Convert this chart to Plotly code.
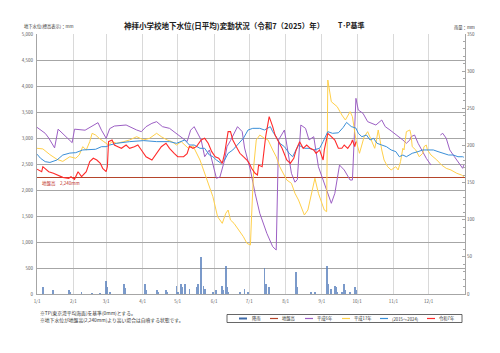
import plotly.graph_objects as go

YEAR = 2025

month_ticks = ["01-01", "02-01", "03-01", "04-01", "05-01", "06-01", "07-01",
               "08-01", "09-01", "10-01", "11-01", "12-01"]
month_labels = ["1/1", "2/1", "3/1", "4/1", "5/1", "6/1", "7/1", "8/1", "9/1",
                "10/1", "11/1", "12/1"]

ground_level = 2240

# 平成6年 (purple)
h6_dates = ["01-01", "01-04", "01-08", "01-11", "01-15", "01-16", "01-19", "01-25", "01-31",
            "02-02", "02-11", "02-22", "02-25", "03-01", "03-04", "03-08", "03-18", "03-27",
            "03-31", "04-04", "04-09", "04-13", "04-18", "04-24", "04-30", "05-03", "05-09",
            "05-12", "05-15", "05-21", "05-24", "05-28", "05-31", "06-03", "06-06", "06-10",
            "06-12", "06-15", "06-21", "06-25", "06-27", "07-02", "07-06", "07-10", "07-16",
            "07-21", "07-24", "07-26", "07-31", "08-03", "08-06", "08-09", "08-11", "08-14",
            "08-18", "08-21", "08-25", "08-29", "09-05", "09-09", "09-12", "09-16", "09-20",
            "09-25", "09-27", "09-30", "10-02", "10-06", "10-10", "10-14", "10-17", "10-22",
            "10-25", "10-29", "11-02", "11-06", "11-09", "11-12", "11-15", "11-16", "11-19",
            "11-22", "11-25", "11-29", "12-03", "12-07", "12-11", "12-13", "12-16", "12-19",
            "12-23", "12-28", "12-30", "12-31"]
h6_vals = [3205, 3150, 3090, 3000, 2833, 2810, 3170, 3040, 2910,
           3170, 3150, 3295, 3150, 2994, 3180, 3230, 3250, 3154,
           3122, 3218, 3282, 3314, 3218, 3186, 3090, 3025, 2930,
           3150, 3218, 2962, 2640, 2770, 2520, 2225, 2250, 2577,
           2832, 2950, 3218, 3122, 2808, 2385, 1936, 1552, 1167,
           910, 846, 2962, 3154, 2711, 2321, 2150, 2200, 3250,
           3186, 2962, 3025, 2448, 2000, 1744, 1936, 2480, 2385,
           2192, 2192, 3763, 3538, 3475, 3314, 3282, 3250, 3346,
           3218, 3154, 3090, 3025, 2962, 2898, 2962, 3025, 3057,
           2898, 2770, 2609, 2480, None, 3057, 3090, 2994, 2770,
           2640, 2480, 2417, 2480]

# 平成17年 (yellow)
h17_dates = ["01-01", "01-06", "01-12", "01-18", "01-23", "01-29", "02-03", "02-06", "02-09",
             "02-12", "02-15", "02-17", "02-20", "02-23", "02-27", "03-03", "03-06", "03-10",
             "03-16", "03-21", "03-27", "04-02", "04-07", "04-13", "04-17", "04-22", "04-26",
             "04-30", "05-04", "05-10", "05-14", "05-17", "05-20", "05-23", "05-27", "05-31",
             "06-04", "06-08", "06-11", "06-13", "06-15", "06-18", "06-22", "06-26", "06-29",
             "07-02", "07-03", "07-05", "07-07", "07-10", "07-14", "07-17", "07-21", "07-24",
             "07-27", "07-30", "08-02", "08-06", "08-09", "08-12", "08-15", "08-17", "08-20",
             "08-23", "08-26", "08-29", "09-01", "09-03", "09-05", "09-06", "09-09", "09-14",
             "09-18", "09-21", "09-25", "09-27", "09-30", "10-03", "10-07", "10-10", "10-13",
             "10-16", "10-17", "10-19", "10-22", "10-24", "10-27", "10-30", "11-03", "11-05",
             "11-07", "11-09", "11-10", "11-12", "11-15", "11-16", "11-17", "11-20", "11-23",
             "11-26", "11-27", "11-29", "11-30", "12-03", "12-08", "12-12", "12-16", "12-20",
             "12-25", "12-29", "12-31"]
h17_vals = [2802, 2790, 2680, 2590, 2550, 2640, 2610, 2673, 2833,
            2770, 2930, 3090, 3057, 2994, 2930, 2865, 2930, 2898,
            2930, 2962, 3025, 2962, 2994, 3090, 3025, 2962, 2930,
            2865, 2930, 2802, 2850, 2706, 2577, 2385, 2128, 1872,
            1487, 1359, 1552, 1615, 1423, 1359, 1231, 1102, 975,
            942, 1500, 2500, 2962, 3057, 2994, 2962, 2770, 2640,
            2448, 2321, 2192, 2128, 1936, 1808, 1615, 1519, 1615,
            1936, 2225, 1936, 1744, 1615, 1583, 4115, 3698, 3602,
            3442, 3346, 3506, 3410, 2962, 2706, 3025, 3122, 2962,
            2802, 2900, 3154, 2770, 2577, 2448, 2385, 2448, 2385,
            2545, 2802, 2770, 3122, 3154, 3057, 2833, 2770, 2640,
            2706, 2833, 2865, 2770, 2673, 2577, 2480, 2417, 2385,
            2321, 2288, 2256]

# (2015～2024) average (blue)
avg_dates = ["01-01", "01-04", "01-08", "01-12", "01-18", "01-23", "01-29", "02-03", "02-09",
             "02-15", "02-20", "02-25", "03-01", "03-04", "03-10", "03-21", "04-02", "04-13",
             "04-24", "04-30", "05-03", "05-07", "05-11", "05-15", "05-20", "05-24", "05-28",
             "05-31", "06-03", "06-07", "06-10", "06-13", "06-17", "06-22", "06-26", "06-30",
             "07-04", "07-10", "07-14", "07-19", "07-21", "07-24", "07-27", "07-31", "08-04",
             "08-07", "08-10", "08-12", "08-17", "08-21", "08-25", "08-30", "09-02", "09-06",
             "09-10", "09-15", "09-19", "09-22", "09-26", "09-30", "10-02", "10-05", "10-09",
             "10-12", "10-15", "10-18", "10-22", "10-26", "10-30", "11-03", "11-06", "11-09",
             "11-12", "11-15", "11-17", "11-22", "11-26", "11-30", "12-05", "12-09", "12-13",
             "12-18", "12-22", "12-26", "12-30", "12-31"]
avg_vals = [2690, 2610, 2545, 2530, 2577, 2673, 2710, 2718, 2770,
            2770, 2783, 2833, 2833, 2865, 2898, 2930, 2950, 2930,
            2930, 2898, 2930, 2962, 2865, 2865, 2802, 2802, 2673,
            2640, 2577, 2513, 2577, 2706, 2770, 2898, 2994, 3154,
            3186, 3186, 3154, 3218, 3122, 3025, 2898, 2833, 2706,
            2640, 2770, 2865, 2802, 2802, 2770, 2802, 2930, 3122,
            3090, 3100, 3200, 3300, 3220, 3190, 3090, 3025, 3057,
            2962, 2994, 2898, 2865, 2833, 2770, 2738, 2640, 2673,
            2640, 2673, 2706, 2738, 2770, 2770, 2770, 2738, 2706,
            2673, 2673, 2640, 2640, 2630]

# 令和7年 (red)
r7_dates = ["01-01", "01-05", "01-06", "01-11", "01-15", "01-18", "01-23", "01-28", "01-30",
            "02-02", "02-05", "02-08", "02-12", "02-15", "02-18", "02-21", "02-24", "02-26",
            "03-01", "03-02", "03-03", "03-06", "03-08", "03-11", "03-14", "03-18", "03-21",
            "03-25", "03-28", "03-31", "04-04", "04-09", "04-13", "04-17", "04-21", "04-24",
            "04-28", "05-01", "05-06", "05-09", "05-11", "05-14", "05-17", "05-21", "05-24",
            "05-27", "05-30", "06-02", "06-05", "06-08", "06-10", "06-13", "06-15", "06-17",
            "06-20", "06-23", "06-26", "06-29", "07-01", "07-03", "07-06", "07-08", "07-09",
            "07-12", "07-15", "07-18", "07-21", "07-23", "07-26", "07-29", "08-02", "08-05",
            "08-08", "08-10", "08-13", "08-16", "08-19", "08-22", "08-25", "08-27", "08-30",
            "09-02", "09-03", "09-06", "09-09", "09-12", "09-15", "09-18", "09-20", "09-23",
            "09-26", "09-27", "09-29", "09-30"]
r7_vals = [2400, 2352, 2448, 2352, 2321, 2288, 2243, 2225, 2256,
           2205, 2352, 2256, 2352, 2545, 2610, 2577, 2513, 2417,
           2352, 2450, 2930, 2962, 2865, 2833, 2802, 2865, 2802,
           2833, 2865, 2770, 2640, 2577, 2706, 2833, 2898, 2802,
           2706, 2640, 2640, 2700, 2840, 2802, 2833, 2962, 2994,
           2898, 2738, 2640, 2610, 2513, 2706, 3122, 3122, 2962,
           2833, 2706, 2640, 2577, 2513, 2417, 2321, 2288, 2480,
           2448, 3025, 3410, 3218, 3057, 2930, 2802, 2577, 2513,
           2609, 2770, 2930, 2802, 2865, 2802, 2770, 2706, 2770,
           2577, 2770, 3090, 3025, 2962, 2802, 2802, 2865, 2802,
           2898, 2962, 2833, 2930]

# 降雨 (rain, mm)
rain_dates = ["01-06", "01-15", "01-28", "01-29", "02-08", "02-17", "02-24", "03-01", "03-02",
              "03-04", "03-16", "03-17", "04-03", "04-04", "04-13", "04-14", "04-21", "04-22",
              "04-30", "05-01", "05-04", "05-05", "05-07", "05-11", "05-17", "05-18", "05-21",
              "05-23", "05-24", "05-31", "06-03", "06-08", "06-09", "06-11", "06-12", "06-13",
              "06-23", "06-27", "06-30", "07-14", "07-15", "07-18", "08-10", "08-11", "08-23",
              "08-26", "09-05", "09-06", "09-09", "09-12", "09-13", "09-14", "09-18", "09-20",
              "09-21", "09-25", "09-29", "09-30"]
rain_vals = [10, 5, 5, 3, 2, 1, 1, 17, 10,
             3, 14, 8, 14, 5, 5, 2, 5, 2,
             11, 2, 14, 9, 13, 7, 9, 14, 50,
             11, 7, 2, 5, 11, 5, 38, 9, 3,
             2, 7, 3, 35, 14, 9, 30, 9, 3,
             2, 38, 14, 7, 11, 9, 3, 3, 14,
             5, 3, 9, 5]

legend_names = ["降雨", "地盤高", "平成6年", "平成17年", "(2015～2024)", "令和7年"]
legend_colors = ["#5b82bd", "#b5452b", "#9c5fc4", "#ffd04a", "#3a8fd8", "#ff2b2b"]


def d(lst):
    return [f"{YEAR}-{s}" for s in lst]


FONT = "Noto Sans CJK JP"
L, R, T, B = 37, 35, 34, 59
W, H = 500, 353
PW, PH = W - L - R, H - T - B


def xp(px):
    return (px - L) / PW


def yp(py):
    return (H - B - py) / PH


fig = go.Figure()

fig.add_trace(go.Bar(x=d(rain_dates), y=rain_vals, yaxis="y2",
                     marker=dict(color=legend_colors[0], line=dict(width=0)),
                     width=86400000 * 0.75, opacity=0.8, name=legend_names[0]))

fig.add_trace(go.Scatter(x=[f"{YEAR}-01-01", f"{YEAR + 1}-01-01"],
                         y=[ground_level, ground_level], mode="lines",
                         line=dict(color=legend_colors[1], width=1.2),
                         name=legend_names[1]))
fig.add_trace(go.Scatter(x=d(h6_dates), y=h6_vals, mode="lines",
                         line=dict(color=legend_colors[2], width=1), name=legend_names[2],
                         connectgaps=False))
fig.add_trace(go.Scatter(x=d(h17_dates), y=h17_vals, mode="lines",
                         line=dict(color=legend_colors[3], width=1), name=legend_names[3]))
fig.add_trace(go.Scatter(x=d(avg_dates), y=avg_vals, mode="lines",
                         line=dict(color=legend_colors[4], width=1), name=legend_names[4]))
fig.add_trace(go.Scatter(x=d(r7_dates), y=r7_vals, mode="lines",
                         line=dict(color=legend_colors[5], width=1.1), name=legend_names[5]))

tick_font = dict(family=FONT, size=4.5, color="#595959")

fig.update_layout(
    width=W, height=H,
    margin=dict(l=L, r=R, t=T, b=B, pad=0),
    paper_bgcolor="white", plot_bgcolor="white",
    showlegend=False,
    bargap=0,
    font=dict(family=FONT),
    xaxis=dict(type="date", range=[f"{YEAR}-01-01", f"{YEAR + 1}-01-01"],
               tickvals=d(month_ticks), ticktext=month_labels,
               showgrid=True, gridcolor="#d9d9d9", gridwidth=1,
               showline=True, linecolor="#a6a6a6", linewidth=1,
               ticks="outside", ticklen=3, tickcolor="rgba(0,0,0,0)",
               tickfont=tick_font, zeroline=False),
    yaxis=dict(range=[0, 5000], dtick=500, tickformat=",d",
               showgrid=True, gridcolor="#a6a6a6", gridwidth=1,
               showline=True, linecolor="#a6a6a6", linewidth=1,
               ticks="outside", ticklen=2, tickcolor="rgba(0,0,0,0)",
               tickfont=tick_font, zeroline=False),
    yaxis2=dict(range=[0, 350], dtick=50, overlaying="y", side="right",
                showgrid=False, showline=True, linecolor="#a6a6a6", linewidth=1,
                ticks="inside", ticklen=3, tickcolor="#a6a6a6",
                minor=dict(dtick=10, ticks="inside", ticklen=2, tickcolor="#a6a6a6"),
                tickfont=tick_font, zeroline=False),
)

ann = []
ann.append(dict(text="<b>神拝小学校地下水位(日平均)変動状況（令和7（2025）年）</b>",
                x=xp(224), y=yp(25.5), xref="paper", yref="paper",
                xanchor="center", yanchor="middle", showarrow=False,
                font=dict(family=FONT, size=7.5, color="#222")))
ann.append(dict(text="<b>T･P基準</b>", x=xp(336), y=yp(25.5), xref="paper", yref="paper",
                xanchor="left", yanchor="middle", showarrow=False,
                font=dict(family=FONT, size=7, color="#222")))
ann.append(dict(text="地下水位(標高表示)：mm", x=xp(22), y=yp(26), xref="paper", yref="paper",
                xanchor="left", yanchor="middle", showarrow=False,
                font=dict(family=FONT, size=4.3, color="#333")))
ann.append(dict(text="雨量：mm", x=xp(452), y=yp(27), xref="paper", yref="paper",
                xanchor="left", yanchor="middle", showarrow=False,
                font=dict(family=FONT, size=4.3, color="#333")))
ann.append(dict(text="地盤高　2,240mm", x=xp(40), y=yp(183.5), xref="paper", yref="paper",
                xanchor="left", yanchor="middle", showarrow=False,
                font=dict(family=FONT, size=4.5, color="#c0302a")))
ann.append(dict(text="※TP(東京湾平均海面)を基準(0mm)とする。", x=xp(38), y=yp(313),
                xref="paper", yref="paper", xanchor="left", yanchor="middle", showarrow=False,
                font=dict(family=FONT, size=4.8, color="#333")))
ann.append(dict(text="※地下水位が地盤高(2,240mm)より高い場合は自噴する状態です。", x=xp(38), y=yp(319.5),
                xref="paper", yref="paper", xanchor="left", yanchor="middle", showarrow=False,
                font=dict(family=FONT, size=4.8, color="#333")))

shapes = []
# legend box
shapes.append(dict(type="rect", xref="paper", yref="paper",
                   x0=xp(227), x1=xp(462), y0=yp(314.5), y1=yp(322.5),
                   line=dict(color="#404040", width=0.8), fillcolor="white"))
sw_x = [239, 270, 305, 342, 380, 427]
tx_x = [250, 280, 315, 352, 390, 437]
ly = 318.5
for i, name in enumerate(legend_names):
    if i == 0:
        shapes.append(dict(type="rect", xref="paper", yref="paper",
                           x0=xp(sw_x[i]), x1=xp(sw_x[i] + 8), y0=yp(ly + 1), y1=yp(ly - 1),
                           line=dict(width=0), fillcolor="#3e6aa8"))
    else:
        shapes.append(dict(type="line", xref="paper", yref="paper",
                           x0=xp(sw_x[i]), x1=xp(sw_x[i] + 8), y0=yp(ly), y1=yp(ly),
                           line=dict(color=legend_colors[i], width=1.2)))
    ann.append(dict(text=name, x=xp(tx_x[i]), y=yp(ly), xref="paper", yref="paper",
                    xanchor="left", yanchor="middle", showarrow=False,
                    font=dict(family=FONT, size=4.3, color="#333")))

fig.update_layout(annotations=ann, shapes=shapes)

fig.write_html("out.html")
